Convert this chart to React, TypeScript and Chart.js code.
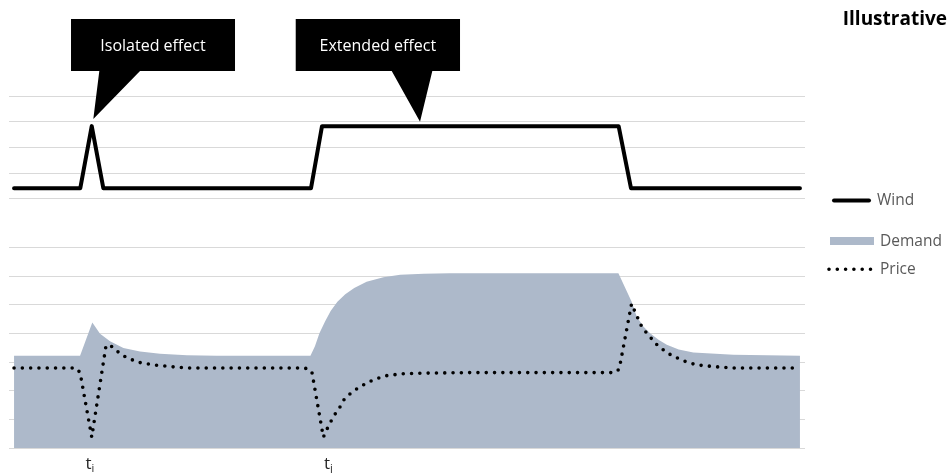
import React, { useEffect, useRef } from 'react';
import { Chart, registerables } from 'chart.js';

Chart.register(...registerables);

// ---- Data (time in arbitrary units, values in arbitrary units) ----
const windT = [0, 5.9, 6.92, 7.95, 26.45, 27.43, 53.85, 54.95, 70];
const windV = [0.42, 0.42, 2.83, 0.42, 0.42, 2.83, 2.83, 0.42, 0.42];

const demandT = [0, 5.88, 6.97, 7.66, 8.55, 9.74, 11.22, 13.0, 15.4, 18.05, 26.4, 26.8, 27.2, 27.7, 28.2, 28.8, 29.5, 30.3, 31.4, 32.9, 34.4, 36.5, 38.8, 53.83, 55.0, 55.46, 56.05, 56.65, 57.4, 58.14, 59.2, 60.5, 64.07, 70];
const demandV = [3.22, 3.22, 4.38, 3.99, 3.72, 3.49, 3.37, 3.29, 3.24, 3.22, 3.22, 3.55, 4.0, 4.41, 4.78, 5.1, 5.36, 5.58, 5.8, 5.96, 6.04, 6.08, 6.1, 6.1, 5.11, 4.59, 4.24, 4.0, 3.78, 3.6, 3.44, 3.33, 3.25, 3.22];

const priceT = [0, 5.52, 5.88, 6.92, 8.19, 8.55, 9.0, 9.71, 10.95, 12.38, 13.9, 15.4, 25.92, 26.52, 27.55, 27.85, 28.2, 28.59, 29.03, 29.33, 29.93, 30.52, 31.11, 31.86, 32.6, 33.25, 34.67, 36.16, 40.3, 53.5, 53.9, 55.0, 55.3, 55.9, 56.4, 57.4, 58.6, 59.9, 60.8, 62.3, 64.1, 70];
const priceV = [2.79, 2.79, 2.63, 0.38, 3.57, 3.59, 3.43, 3.22, 3.0, 2.9, 2.84, 2.79, 2.79, 2.67, 0.38, 0.64, 0.91, 1.18, 1.43, 1.66, 1.89, 2.06, 2.2, 2.35, 2.46, 2.53, 2.59, 2.61, 2.63, 2.63, 2.75, 5.03, 4.76, 4.24, 3.98, 3.54, 3.22, 3.0, 2.9, 2.84, 2.79, 2.79];

const windGrid = [0, 1, 2, 3, 4];
const demandGrid = [0, 1, 2, 3, 4, 5, 6, 7];

const seriesLabels = ['Wind', 'Demand', 'Price'];

const calloutLabels = ['Isolated effect', 'Extended effect'];
const calloutT = [7.06, 36.16];
const calloutV = [3.11, 3.0];

const markerMain = ['t', 't'];
const markerSub = ['i', 'j'];
const markerT = [6.75, 28.0];

const titleText = 'Illustrative';

// ---- Styles ----
const FONT = '"Open Sans", "Noto Sans", "DejaVu Sans", sans-serif';
const DEMAND_COLOR = '#ADB9CA';
const GRID_COLOR = '#D9D9D9';
const LEGEND_TEXT = '#595959';

const calloutGeom = [
  { dx0: -22.3, dx1: 141.7, b0: 6, b1: 46.7 },
  { dx0: -124.3, dx1: 40, b0: -28.3, b1: 12.3 },
];

const toXY = (ts: number[], vs: number[]) => ts.map((t, i) => ({ x: t, y: vs[i] }));

const overlayPlugin = {
  id: 'overlay',
  afterDraw(chart: any) {
    const { ctx, scales, chartArea } = chart;
    const xs = scales.x;
    const yw = scales.yWind;
    ctx.save();

    // Callouts
    calloutLabels.forEach((label, i) => {
      const g = calloutGeom[i];
      const tx = xs.getPixelForValue(calloutT[i]);
      const ty = yw.getPixelForValue(calloutV[i]);
      const left = tx + g.dx0;
      const right = tx + g.dx1;
      const top = 19;
      const bottom = 71;
      ctx.beginPath();
      ctx.moveTo(left, top);
      ctx.lineTo(right, top);
      ctx.lineTo(right, bottom);
      ctx.lineTo(tx + g.b1, bottom);
      ctx.lineTo(tx, ty);
      ctx.lineTo(tx + g.b0, bottom);
      ctx.lineTo(left, bottom);
      ctx.closePath();
      ctx.fillStyle = '#000';
      ctx.fill();
      ctx.fillStyle = '#fff';
      ctx.font = `16px ${FONT}`;
      ctx.textAlign = 'center';
      ctx.textBaseline = 'middle';
      ctx.fillText(label, (left + right) / 2, (top + bottom) / 2 + 1);
    });

    // Markers t_i, t_j
    markerMain.forEach((m, i) => {
      const px = xs.getPixelForValue(markerT[i]);
      ctx.font = `17px ${FONT}`;
      const w1 = ctx.measureText(m).width;
      ctx.font = `11px ${FONT}`;
      const w2 = ctx.measureText(markerSub[i]).width;
      const sx = px - (w1 + w2) / 2;
      ctx.fillStyle = '#262626';
      ctx.textAlign = 'left';
      ctx.textBaseline = 'alphabetic';
      ctx.font = `17px ${FONT}`;
      ctx.fillText(m, sx, 469);
      ctx.font = `11px ${FONT}`;
      ctx.fillText(markerSub[i], sx + w1, 471.5);
    });

    // Title
    ctx.fillStyle = '#000';
    ctx.font = `bold 19px ${FONT}`;
    ctx.textAlign = 'right';
    ctx.textBaseline = 'alphabetic';
    ctx.fillText(titleText, 947, 25);

    // Legend
    const lx = chartArea.right + 24;
    ctx.textAlign = 'left';
    ctx.textBaseline = 'middle';
    ctx.font = `15.5px ${FONT}`;
    // Wind
    ctx.strokeStyle = '#000';
    ctx.lineWidth = 4;
    ctx.lineCap = 'round';
    ctx.beginPath();
    ctx.moveTo(lx + 5, 200.5);
    ctx.lineTo(lx + 40, 200.5);
    ctx.stroke();
    ctx.fillStyle = LEGEND_TEXT;
    ctx.fillText(seriesLabels[0], lx + 48, 201);
    // Demand
    ctx.fillStyle = DEMAND_COLOR;
    ctx.fillRect(lx + 1, 237, 44, 8);
    ctx.fillStyle = LEGEND_TEXT;
    ctx.fillText(seriesLabels[1], lx + 51, 241.5);
    // Price
    ctx.setLineDash([0, 8.3]);
    ctx.lineWidth = 3.6;
    ctx.beginPath();
    ctx.moveTo(lx, 269.3);
    ctx.lineTo(lx + 44, 269.3);
    ctx.stroke();
    ctx.setLineDash([]);
    ctx.fillText(seriesLabels[2], lx + 51, 269.5);

    ctx.restore();
  },
};

export default function App() {
  const ref = useRef<HTMLCanvasElement>(null);
  useEffect(() => {
    if (!ref.current) return;
    const chart = new Chart(ref.current, {
      type: 'line',
      data: {
        datasets: [
          {
            label: seriesLabels[0],
            data: toXY(windT, windV),
            yAxisID: 'yWind',
            borderColor: '#000',
            borderWidth: 4,
            borderJoinStyle: 'round',
            borderCapStyle: 'round',
            pointRadius: 0,
            fill: false,
            tension: 0,
          },
          {
            label: seriesLabels[2],
            data: toXY(priceT, priceV),
            yAxisID: 'yDem',
            borderColor: '#000',
            borderWidth: 3.6,
            borderDash: [0, 8.3],
            borderCapStyle: 'round',
            pointRadius: 0,
            fill: false,
            tension: 0,
          },
          {
            label: seriesLabels[1],
            data: toXY(demandT, demandV),
            yAxisID: 'yDem',
            backgroundColor: DEMAND_COLOR,
            borderColor: DEMAND_COLOR,
            borderWidth: 0,
            pointRadius: 0,
            fill: 'origin',
            tension: 0,
          },
        ],
      } as any,
      options: {
        animation: false,
        responsive: true,
        maintainAspectRatio: false,
        events: [],
        layout: { padding: { left: 9, right: 145, top: 96, bottom: 25 } },
        plugins: { legend: { display: false }, tooltip: { enabled: false } },
        scales: {
          x: { type: 'linear', min: -0.45, max: 70.45, display: false },
          yWind: {
            type: 'linear',
            position: 'left',
            min: -9.67,
            max: 4,
            afterBuildTicks: (s: any) => {
              s.ticks = windGrid.map((v) => ({ value: v }));
            },
            ticks: { display: false },
            border: { display: false },
            grid: { color: GRID_COLOR, drawTicks: false, lineWidth: 1 },
          },
          yDem: {
            type: 'linear',
            position: 'left',
            min: 0,
            max: 12.28,
            afterBuildTicks: (s: any) => {
              s.ticks = demandGrid.map((v) => ({ value: v }));
            },
            ticks: { display: false },
            border: { display: false },
            grid: { color: GRID_COLOR, drawTicks: false, lineWidth: 1 },
          },
        },
      } as any,
      plugins: [overlayPlugin],
    });
    return () => chart.destroy();
  }, []);

  return (
    <div style={{ position: 'fixed', left: 0, top: 0, width: 950, height: 473, background: '#fff' }}>
      <canvas ref={ref} />
    </div>
  );
}
